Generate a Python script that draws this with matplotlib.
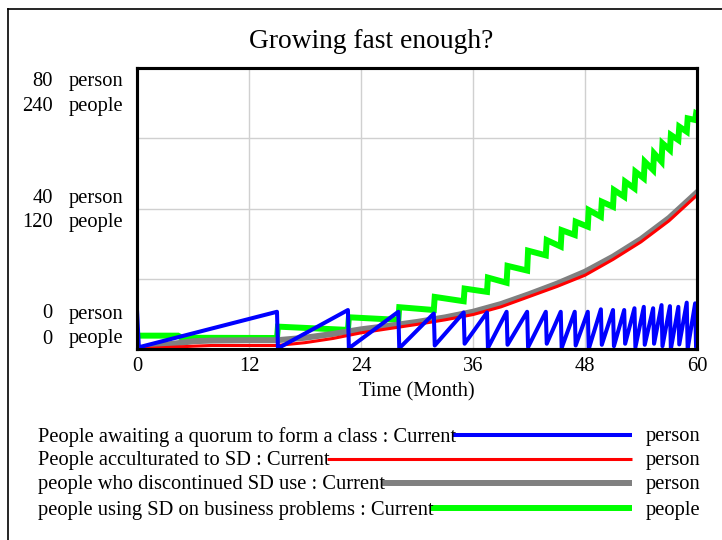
import matplotlib
matplotlib.use('Agg')
import matplotlib.pyplot as plt
from matplotlib.lines import Line2D

plt.rcParams['font.family'] = ['Liberation Serif', 'DejaVu Serif']

# ---- values ----
time_ticks = [0, 12, 24, 36, 48, 60]
person_ticks = [80, 40, 0]
people_ticks = [240, 120, 0]

# People awaiting a quorum to form a class (person), sawtooth vertices
awaiting_t = [0, 0, 0.2,
              15.0, 15.1, 22.6, 22.7, 28.0, 28.1, 31.8, 31.9,
              35.0, 35.1, 37.5, 37.6, 39.6, 39.7, 41.8, 41.9,
              43.8, 43.9, 45.4, 45.5, 46.9, 47.0, 48.3, 48.4,
              49.7, 49.8, 51.0, 51.1, 52.2, 52.3, 53.3, 53.4,
              54.3, 54.4, 55.3, 55.4, 56.2, 56.3, 57.1, 57.2,
              58.0, 58.1, 58.9, 59.0, 59.8, 59.9, 60]
awaiting_v = [0, 11.1, 0.5,
              10.6, 0.2, 11.1, 0.2, 10.6, 0.2, 10.1, 1.0,
              10.4, 1.5, 10.4, 0.3, 10.6, 1.2, 10.6, 0.5,
              10.6, 1.5, 10.6, 0.3, 10.6, 1.0, 10.6, 0.0,
              11.3, 1.2, 11.1, 0.8, 11.1, 1.5, 11.6, 0.5,
              12.0, 1.2, 11.6, 1.5, 12.5, 0.8, 12.2, 0.0,
              12.0, 1.3, 13.2, 0.0, 13.0, 0.5, 2.0]

# People acculturated to SD / people who discontinued SD use (person)
months = [0, 3, 6, 8, 12, 15, 18, 21, 24, 27, 30, 33, 36, 39, 42, 45, 48, 51, 54, 57, 60]
acculturated = [0, 0.4, 0.8, 1.0, 1.0, 1.0, 1.8, 3.0, 4.6, 5.8, 7.0, 8.3, 9.8,
                12.0, 14.9, 17.8, 21.0, 25.5, 30.5, 36.5, 43.8]
discontinued = [0, 1.2, 2.2, 2.4, 2.5, 2.5, 3.2, 4.3, 5.6, 6.6, 7.7, 9.0, 10.6,
                12.8, 15.6, 18.6, 22.0, 26.3, 31.3, 37.3, 44.6]

# people using SD on business problems (people), step vertices
using_t = [0, 4.4, 4.8,
           15.0, 15.1, 22.6, 22.7, 28.0, 28.1, 31.8, 31.9,
           35.0, 35.1, 37.5, 37.6, 39.6, 39.7, 41.8, 41.9,
           43.8, 43.9, 45.4, 45.5, 46.9, 47.0, 48.3, 48.4,
           49.7, 49.8, 51.0, 51.1, 52.2, 52.3, 53.3, 53.4,
           54.3, 54.4, 55.3, 55.4, 56.2, 56.3, 57.1, 57.2,
           58.0, 58.1, 58.9, 59.0, 59.8, 59.9, 60]
using_v = [11.4, 11.4, 9.6,
           9.4, 19.1, 16.3, 27.1, 24.9, 35.7, 33.3, 44.5,
           40.8, 51.6, 48.8, 61.0, 56.6, 71.0, 67.0, 84.0,
           80.0, 93.0, 87.5, 101.5, 97.4, 108.7, 104.5, 118.7,
           113.0, 125.8, 121.5, 135.8, 130.1, 142.9, 137.2, 151.4,
           145.8, 160.0, 152.9, 167.1, 160.0, 175.7, 170.0, 182.8,
           178.5, 189.9, 185.6, 197.0, 195.6, 201.0, 200.5]

legend_labels = ["People awaiting a quorum to form a class : Current",
                 "People acculturated to SD : Current",
                 "people who discontinued SD use : Current",
                 "people using SD on business problems : Current"]
legend_units = ["person", "person", "person", "people"]

BLUE, RED, GRAY, GREEN = '#0000ff', '#ff0000', '#808080', '#00ff00'
W, H = 722, 540
FS = 14.8

fig = plt.figure(figsize=(W / 100, H / 100), dpi=100)
ax2 = fig.add_axes([137 / W, 1 - 349 / H, 560 / W, 281 / H])
ax = ax2.twinx()
ax.set_zorder(ax2.get_zorder() + 1)
ax.patch.set_visible(False)

# green on the people scale (underneath)
ax2.plot(using_t, using_v, color=GREEN, lw=4.3, solid_joinstyle='miter')
ax2.set_ylim(0, 240)
ax2.set_yticks([0, 60, 120, 180, 240])
ax2.set_xlim(0, 60)
ax2.set_xticks(time_ticks)
ax2.grid(True, color='#d0d0d0', lw=1.0)
ax2.tick_params(axis='y', left=False, labelleft=False)
ax2.tick_params(axis='x', length=0, labelsize=FS, pad=5.5)
ax2.set_xlabel("Time (Month)", fontsize=FS, labelpad=4.5)

ax.plot(months, discontinued, color=GRAY, lw=4.3)
ax.plot(months, acculturated, color=RED, lw=2.2)
ax.plot(awaiting_t, awaiting_v, color=BLUE, lw=2.9)
ax.set_ylim(0, 80)
ax.set_xlim(0, 60)
ax.tick_params(axis='y', right=False, labelright=False)

for a in (ax, ax2):
    for s in a.spines.values():
        s.set_linewidth(2.2)
        s.set_color('black')

# left-side tick labels (two scales stacked)
pos = [1.0, 0.5, 0.0]
offs = [(-9.4, -27.4), (7.2, -10.0), (25.2, 7.2)]
for p, (o1, o2), v1, v2 in zip(pos, offs, person_ticks, people_ticks):
    ax.annotate(str(v1), xy=(0, p), xycoords='axes fraction', xytext=(-60.5, o1),
                textcoords='offset points', ha='right', va='center', fontsize=FS)
    ax.annotate("person", xy=(0, p), xycoords='axes fraction', xytext=(-49, o1),
                textcoords='offset points', ha='left', va='center', fontsize=FS)
    ax.annotate(str(v2), xy=(0, p), xycoords='axes fraction', xytext=(-60.5, o2),
                textcoords='offset points', ha='right', va='center', fontsize=FS)
    ax.annotate("people", xy=(0, p), xycoords='axes fraction', xytext=(-49, o2),
                textcoords='offset points', ha='left', va='center', fontsize=FS)

fig.text(371 / W, 1 - 42 / H, "Growing fast enough?", ha='center', va='center', fontsize=19.8)

# legend
row_y = [437, 461, 485, 510]
colors = [BLUE, RED, GRAY, GREEN]
widths = [2.9, 2.2, 4.3, 4.3]
fig.canvas.draw()
renderer = fig.canvas.get_renderer()
for lab, unit, y, c, lw in zip(legend_labels, legend_units, row_y, colors, widths):
    t = fig.text(38 / W, 1 - y / H, lab, ha='left', va='center', fontsize=FS)
    x_end = t.get_window_extent(renderer).x1
    ly = 1 - (y - 2) / H
    fig.add_artist(Line2D([(x_end - 3) / W, 632 / W], [ly, ly],
                          color=c, lw=lw, transform=fig.transFigure, solid_capstyle='butt'))
    fig.text(646 / W, 1 - y / H, unit, ha='left', va='center', fontsize=FS)

# outer frame (left and top edges)
fig.add_artist(Line2D([7.5 / W, 7.5 / W], [0, 1 - 8.5 / H], color='black', lw=1.2,
                      transform=fig.transFigure))
fig.add_artist(Line2D([7.5 / W, 1], [1 - 8.5 / H, 1 - 8.5 / H], color='black', lw=1.2,
                      transform=fig.transFigure))

fig.savefig('out.png', dpi=100)
